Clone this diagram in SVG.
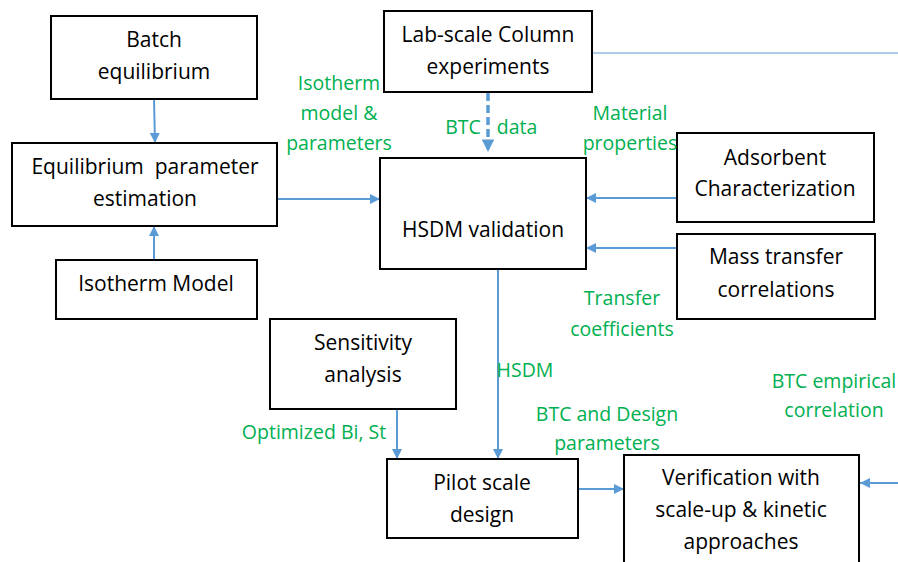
<svg xmlns="http://www.w3.org/2000/svg" width="898" height="562" viewBox="0 0 898 562">
  <style>
    .box { fill: #ffffff; stroke: #000000; stroke-width: 2; }
    .t { font-family: "Open Sans", "Liberation Sans", sans-serif; font-size: 21px; fill: #000000; text-anchor: middle; }
    .g { font-family: "Open Sans", "Liberation Sans", sans-serif; font-size: 19.5px; fill: #00b050; text-anchor: middle; }
    .c { fill: none; stroke: #5b9bd5; stroke-width: 2; }
    .dash { fill: none; stroke: #5b9bd5; stroke-width: 3.5; stroke-dasharray: 8 4; }
  </style>
  <defs>
    <marker id="ah" viewBox="0 0 10 10" refX="10" refY="5" markerWidth="5" markerHeight="5" orient="auto" markerUnits="strokeWidth">
      <path d="M0,0 L10,5 L0,10 Z" fill="#5b9bd5"/>
    </marker>
    <marker id="ahd" viewBox="0 0 10 10" refX="10" refY="5" markerWidth="3.6" markerHeight="3.6" orient="auto" markerUnits="strokeWidth">
      <path d="M0,0 L10,5 L0,10 Z" fill="#5b9bd5"/>
    </marker>
  </defs>

  <rect width="898" height="562" fill="#ffffff"/>

  <!-- connectors -->
  <g id="connectors">
    <line class="c" x1="154" y1="99" x2="155" y2="143" marker-end="url(#ah)"/>
    <line class="c" x1="154" y1="260" x2="154" y2="226" marker-end="url(#ah)"/>
    <line class="c" x1="277" y1="199" x2="380" y2="199" marker-end="url(#ah)"/>
    <line class="dash" x1="488" y1="93" x2="488" y2="152" marker-end="url(#ahd)"/>
    <line x1="592" y1="53" x2="898" y2="53" stroke="#5b9bd5" stroke-width="1"/>
    <line class="c" x1="677" y1="198" x2="586" y2="198" marker-end="url(#ah)"/>
    <line class="c" x1="677" y1="248" x2="586" y2="248" marker-end="url(#ah)"/>
    <line class="c" x1="498" y1="268" x2="498" y2="459" marker-end="url(#ah)"/>
    <line class="c" x1="397" y1="409" x2="397" y2="459" marker-end="url(#ah)"/>
    <line class="c" x1="578" y1="489" x2="624" y2="489" marker-end="url(#ah)"/>
    <line class="c" x1="898" y1="483" x2="860" y2="483" marker-end="url(#ah)"/>
  </g>

  <!-- nodes -->
  <g id="batch">
    <rect class="box" x="51" y="16" width="206" height="83"/>
    <text class="t" x="154" y="47">Batch</text>
    <text class="t" x="154" y="79">equilibrium</text>
  </g>
  <g id="eqparam">
    <rect class="box" x="12" y="143" width="265" height="83"/>
    <text class="t" x="145" y="174">Equilibrium&#160; parameter</text>
    <text class="t" x="145" y="206">estimation</text>
  </g>
  <g id="isotherm">
    <rect class="box" x="56" y="260" width="201" height="59"/>
    <text class="t" x="156" y="291">Isotherm Model</text>
  </g>
  <g id="labscale">
    <rect class="box" x="384" y="11" width="208" height="81"/>
    <text class="t" x="488" y="42">Lab-scale Column</text>
    <text class="t" x="488" y="74">experiments</text>
  </g>
  <g id="hsdm">
    <rect class="box" x="380" y="158" width="206" height="111"/>
    <text class="t" x="483" y="237">HSDM validation</text>
  </g>
  <g id="adsorbent">
    <rect class="box" x="677" y="133" width="197" height="89"/>
    <text class="t" x="775" y="165">Adsorbent</text>
    <text class="t" x="775" y="196">Characterization</text>
  </g>
  <g id="masstransfer">
    <rect class="box" x="677" y="234" width="198" height="85"/>
    <text class="t" x="776" y="264">Mass transfer</text>
    <text class="t" x="776" y="297">correlations</text>
  </g>
  <g id="sensitivity">
    <rect class="box" x="270" y="319" width="186" height="90"/>
    <text class="t" x="363" y="350">Sensitivity</text>
    <text class="t" x="363" y="382">analysis</text>
  </g>
  <g id="pilot">
    <rect class="box" x="387" y="459" width="191" height="79"/>
    <text class="t" x="482" y="490">Pilot scale</text>
    <text class="t" x="482" y="522">design</text>
  </g>
  <g id="verification">
    <rect class="box" x="624" y="455" width="235" height="120"/>
    <text class="t" x="741" y="485">Verification with</text>
    <text class="t" x="741" y="517">scale-up &amp; kinetic</text>
    <text class="t" x="741" y="549">approaches</text>
  </g>

  <!-- connector labels -->
  <g id="labels">
    <text class="g" x="339" y="90">Isotherm</text>
    <text class="g" x="339" y="120">model &amp;</text>
    <text class="g" x="339" y="150">parameters</text>
    <text class="g" x="463" y="134">BTC</text>
    <text class="g" x="517" y="134">data</text>
    <text class="g" x="630" y="120">Material</text>
    <text class="g" x="630" y="150">properties</text>
    <text class="g" x="622" y="305">Transfer</text>
    <text class="g" x="622" y="336">coefficients</text>
    <text class="g" x="525" y="377">HSDM</text>
    <text class="g" x="314" y="439">Optimized Bi, St</text>
    <text class="g" x="607" y="421">BTC and Design</text>
    <text class="g" x="607" y="450">parameters</text>
    <text class="g" x="834" y="388">BTC empirical</text>
    <text class="g" x="834" y="417">correlation</text>
  </g>
</svg>
